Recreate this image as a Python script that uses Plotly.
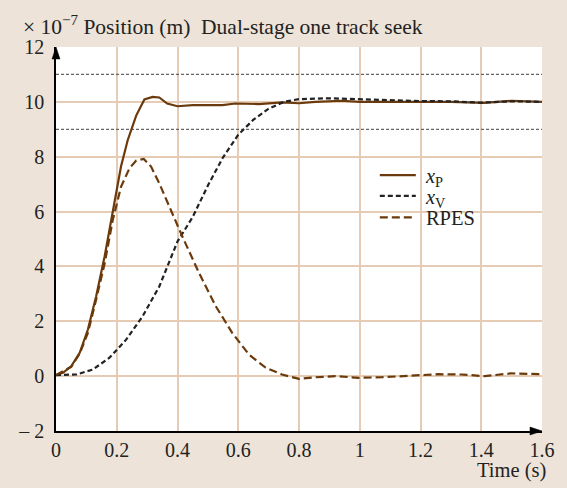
import plotly.graph_objects as go

# ---- data ----
t_p = [0, 0.023, 0.05, 0.078, 0.105, 0.132, 0.16, 0.187, 0.214, 0.236, 0.264, 0.291, 0.318,
       0.34, 0.366, 0.4, 0.45, 0.5, 0.548, 0.59, 0.635, 0.668, 0.744, 0.8, 0.854, 0.94, 1.0,
       1.1, 1.2, 1.3, 1.41, 1.5, 1.6]
x_p = [0.04, 0.12, 0.36, 0.85, 1.7, 2.9, 4.36, 6.06, 7.64, 8.6, 9.5, 10.09, 10.18,
       10.16, 9.94, 9.84, 9.88, 9.88, 9.88, 9.94, 9.94, 9.92, 9.98, 9.95, 10.0, 10.04, 10.0,
       10.0, 10.02, 10.0, 9.96, 10.04, 10.0]

t_v = [0, 0.067, 0.121, 0.176, 0.231, 0.285, 0.34, 0.4, 0.45, 0.5, 0.55, 0.6, 0.65, 0.7,
       0.75, 0.8, 0.9, 1.0, 1.1, 1.2, 1.3, 1.4, 1.5, 1.6]
x_v = [0.04, 0.06, 0.24, 0.67, 1.33, 2.18, 3.27, 4.91, 5.8, 6.95, 7.98, 8.8, 9.35, 9.75,
       10.0, 10.1, 10.13, 10.1, 10.05, 10.03, 10.02, 9.97, 10.02, 10.0]

t_r = [0, 0.05, 0.078, 0.105, 0.132, 0.16, 0.187, 0.214, 0.242, 0.264, 0.289, 0.313, 0.34,
       0.373, 0.416, 0.471, 0.526, 0.58, 0.635, 0.69, 0.744, 0.8, 0.854, 0.92, 0.996, 1.072,
       1.16, 1.258, 1.334, 1.411, 1.498, 1.6]
rpes = [0.04, 0.34, 0.82, 1.58, 2.79, 4.1, 5.7, 6.9, 7.58, 7.86, 7.92, 7.64, 7.03,
        6.18, 5.09, 3.76, 2.55, 1.58, 0.79, 0.31, 0.06, -0.1, -0.04, 0.0, -0.06, -0.04,
        0.0, 0.07, 0.06, 0.0, 0.1, 0.07]

tol_levels = [9, 11]

x_ticks = [0, 0.2, 0.4, 0.6, 0.8, 1.0, 1.2, 1.4, 1.6]
x_ticklabels = ["0", "0.2", "0.4", "0.6", "0.8", "1", "1.2", "1.4", "1.6"]
y_ticks = [-2, 0, 2, 4, 6, 8, 10, 12]
y_ticklabels = ["\u2013 2", "0", "2", "4", "6", "8", "10", "12"]

BROWN = "#6B3A0C"
BG = "#EDE3D8"
GRID = "#E6CCB4"
FONT = "Liberation Serif"
TXT = "#222222"
PAD = "\u00a0"

fig = go.Figure()
fig.add_trace(go.Scatter(x=t_p, y=x_p, mode="lines", name=PAD + "<i>x</i><sub>P</sub>",
                         line=dict(color=BROWN, width=2.2), legend="legend"))
fig.add_trace(go.Scatter(x=t_v, y=x_v, mode="lines", name=PAD + "<i>x</i><sub>V</sub>",
                         line=dict(color="#222222", width=2.2, dash="5px,3px"), legend="legend2"))
fig.add_trace(go.Scatter(x=t_r, y=rpes, mode="lines", name=PAD + "RPES",
                         line=dict(color=BROWN, width=2.2, dash="8px,4px"), legend="legend3"))

for lv in tol_levels:
    fig.add_shape(type="line", xref="x", yref="y", x0=0, x1=1.6, y0=lv, y1=lv,
                  line=dict(color="#666666", width=1.2, dash="3px,2px"), layer="between")

# axis arrowheads
fig.add_shape(type="path", xref="paper", yref="paper", xsizemode="pixel", ysizemode="pixel",
              xanchor=0, yanchor=1, path="M -4 -12 L 0 0 L 4 -12 Z",
              fillcolor="black", line=dict(color="black", width=0.5))
fig.add_shape(type="path", xref="paper", yref="paper", xsizemode="pixel", ysizemode="pixel",
              xanchor=1, yanchor=0, path="M -12 -4 L 0 0 L -12 4 Z",
              fillcolor="black", line=dict(color="black", width=0.5))

fig.add_annotation(xref="paper", yref="paper", x=-0.072, y=1.016, xanchor="left",
                   yanchor="bottom", showarrow=False,
                   text="\u00d7 10<sup>\u22127</sup> Position (m)  Dual-stage one track seek",
                   font=dict(family=FONT, size=21.5, color=TXT))
fig.add_annotation(xref="paper", yref="paper", x=1.012, y=-0.068, xanchor="right",
                   yanchor="top", showarrow=False, text="Time (s)",
                   font=dict(family=FONT, size=20.5, color=TXT))

leg_common = dict(xanchor="left", yanchor="middle", bgcolor="rgba(0,0,0,0)",
                  font=dict(family=FONT, size=20.5, color=TXT), itemwidth=36)

fig.update_layout(
    width=567, height=488,
    margin=dict(l=56, r=23, t=47, b=57),
    paper_bgcolor=BG, plot_bgcolor="white",
    font=dict(family=FONT, size=20, color=TXT),
    showlegend=True,
    legend=dict(x=0.656, y=0.666, **leg_common),
    legend2=dict(x=0.656, y=0.612, **leg_common),
    legend3=dict(x=0.656, y=0.556, **leg_common),
    xaxis=dict(range=[0, 1.6], tickvals=x_ticks, ticktext=x_ticklabels,
               showgrid=True, gridcolor=GRID, gridwidth=1.5, zeroline=False,
               showline=True, linecolor="black", linewidth=1.5, ticks="", ticklabelstandoff=0),
    yaxis=dict(range=[-2, 12], tickvals=y_ticks, ticktext=y_ticklabels,
               showgrid=True, gridcolor=GRID, gridwidth=1.5, zeroline=False,
               showline=True, linecolor="black", linewidth=1.5, ticks="", ticklabelstandoff=6),
)

fig.write_html("out.html", config={"displayModeBar": False},
               post_script="document.body.style.margin='0';")
